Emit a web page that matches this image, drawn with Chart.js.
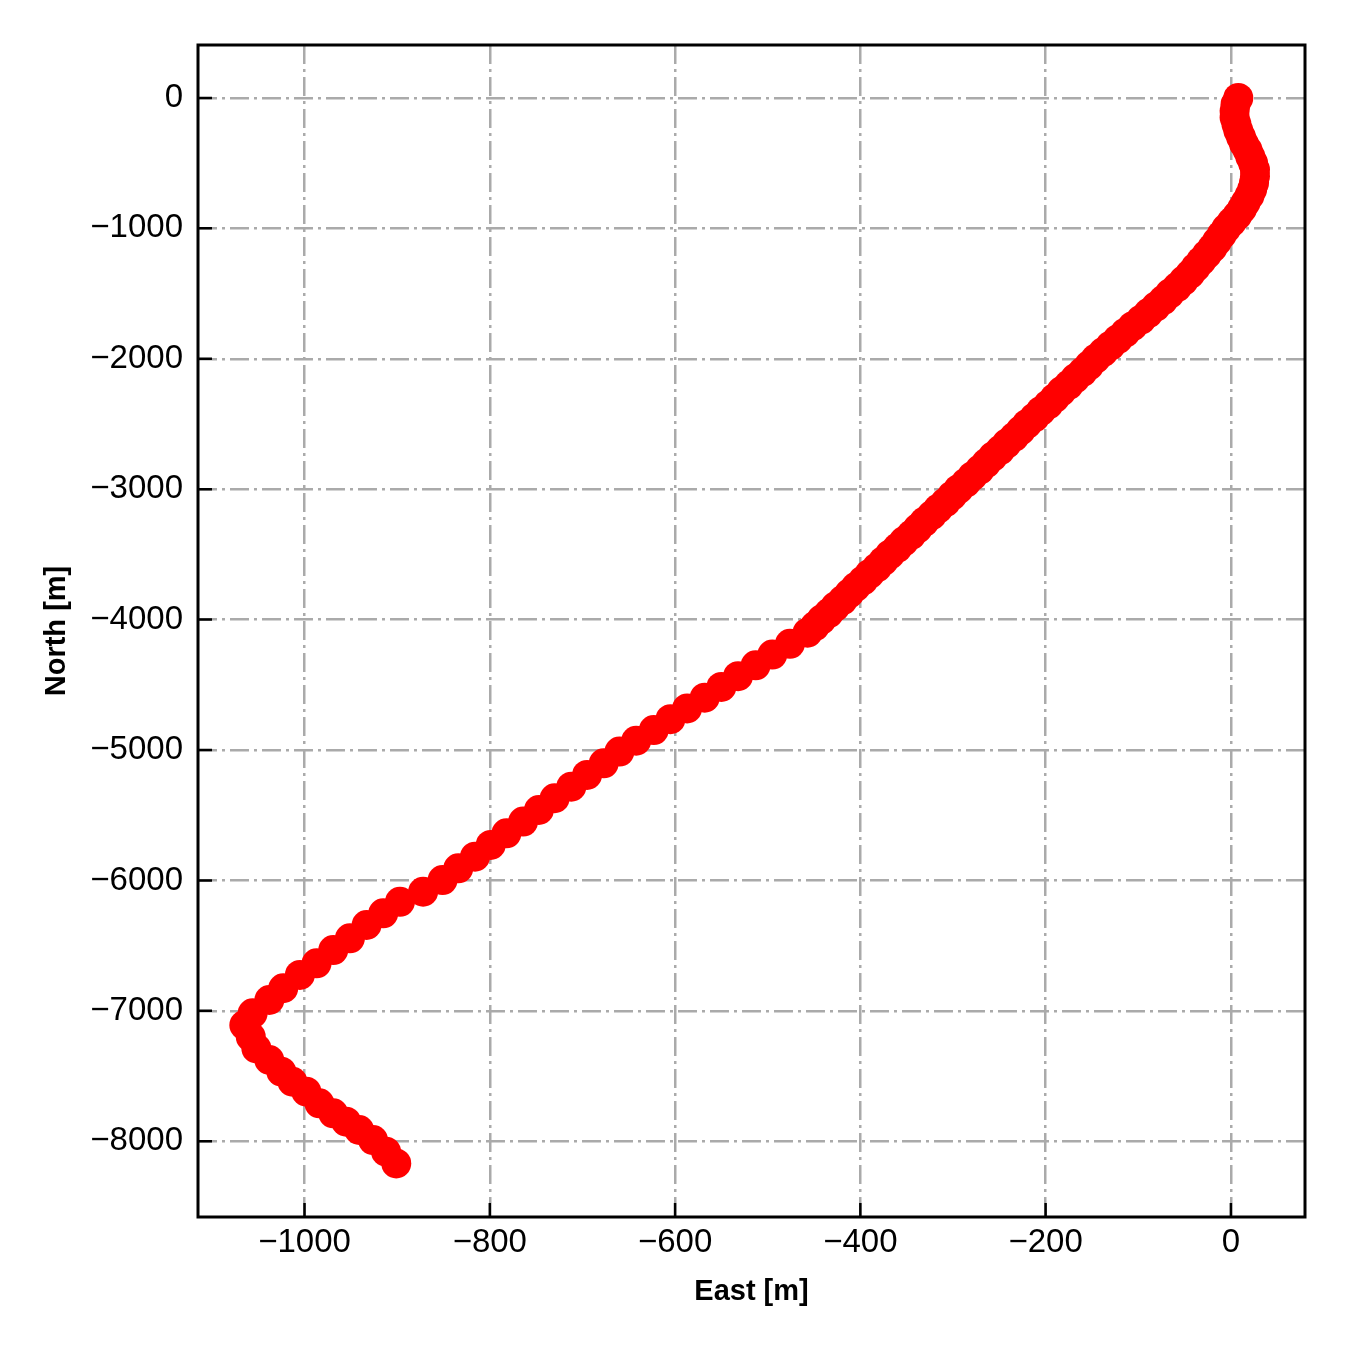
<!DOCTYPE html>
<html>
<head>
<meta charset="utf-8">
<script src="https://cdn.jsdelivr.net/npm/chart.js@4/dist/chart.umd.min.js"></script>
<style>
  html, body { margin: 0; padding: 0; background: #ffffff; }
  #wrap { width: 1350px; height: 1350px; }
</style>
</head>
<body>
<div id="wrap"><canvas id="c" width="1350" height="1350"></canvas></div>
<script>
// ---- data ----
const eastValues = [
  8, 5, 4, 4, 6, 8, 11, 14, 18, 21,
  24, 26, 26, 25, 23, 20, 16, 12, 7, 1,
  -5, -10, -15, -20, -26, -32, -38, -44, -51, -58,
  -66, -73, -81, -89, -97, -106, -114, -122, -130, -138,
  -146, -153, -160, -168, -175, -183, -190, -197, -205, -212,
  -220, -227, -234, -242, -249, -257, -264, -271, -279, -286,
  -294, -301, -308, -316, -323, -331, -338, -345, -353, -360,
  -368, -375, -382, -390, -397, -405, -412, -419, -427, -434,
  -442, -449, -457,
  -476, -495, -513, -532, -550, -568, -587, -605, -623, -642, -660,
  -677, -695, -712, -730, -747, -764, -782, -799, -816, -834, -851,
  -872, -897, -915, -933, -951, -969, -987, -1005, -1023, -1038, -1056, -1065,
  -1058, -1052, -1038, -1025, -1013, -998, -984, -969, -955, -941, -926, -912, -901
];
const northValues = [
  0, -50, -100, -150, -200, -250, -300, -350, -400, -450,
  -500, -550, -600, -650, -700, -750, -800, -850, -900, -950,
  -1000, -1050, -1100, -1150, -1200, -1250, -1300, -1350, -1400, -1450,
  -1500, -1550, -1600, -1650, -1700, -1750, -1800, -1850, -1900, -1950,
  -2000, -2050, -2100, -2150, -2200, -2250, -2300, -2350, -2400, -2450,
  -2500, -2550, -2600, -2650, -2700, -2750, -2800, -2850, -2900, -2950,
  -3000, -3050, -3100, -3150, -3200, -3250, -3300, -3350, -3400, -3450,
  -3500, -3550, -3600, -3650, -3700, -3750, -3800, -3850, -3900, -3950,
  -4000, -4050, -4100,
  -4186, -4268, -4351, -4434, -4516, -4599, -4681, -4764, -4847, -4929, -5012,
  -5102, -5191, -5281, -5370, -5460, -5549, -5639, -5728, -5818, -5907, -5997,
  -6087, -6164, -6252, -6342, -6444, -6534, -6636, -6725, -6827, -6917, -7019, -7109,
  -7200, -7288, -7377, -7467, -7544, -7620, -7709, -7786, -7850, -7914, -7991, -8080, -8170
];
const xTickValues = [-1000, -800, -600, -400, -200, 0];
const yTickValues = [0, -1000, -2000, -3000, -4000, -5000, -6000, -7000, -8000];
const xTitle = 'East [m]';
const yTitle = 'North [m]';

const points = eastValues.map((e, i) => ({ x: e, y: northValues[i] }));
const fmt = v => String(v).replace('-', '\u2212');

const frameAndTicks = {
  id: 'frameAndTicks',
  afterDraw(chart) {
    const { ctx, chartArea: a, scales } = chart;
    ctx.save();
    ctx.strokeStyle = '#000000';
    ctx.lineWidth = 2.5;
    ctx.setLineDash([]);
    ctx.beginPath();
    scales.x.ticks.forEach(t => {
      const px = scales.x.getPixelForValue(t.value);
      ctx.moveTo(px, a.bottom);
      ctx.lineTo(px, a.bottom - 14);
    });
    scales.y.ticks.forEach(t => {
      const py = scales.y.getPixelForValue(t.value);
      ctx.moveTo(a.left, py);
      ctx.lineTo(a.left + 14, py);
    });
    ctx.stroke();
    ctx.lineWidth = 3;
    ctx.strokeRect(a.left, a.top, a.right - a.left, a.bottom - a.top);
    ctx.restore();
  }
};

new Chart(document.getElementById('c'), {
  type: 'scatter',
  data: {
    datasets: [{
      data: points,
      backgroundColor: '#ff0000',
      borderWidth: 0,
      pointRadius: 15,
      pointHoverRadius: 15,
      showLine: false
    }]
  },
  options: {
    responsive: false,
    animation: false,
    devicePixelRatio: 1,
    layout: { padding: { left: 0, top: 45, right: 45, bottom: 0 } },
    plugins: { legend: { display: false }, tooltip: { enabled: false } },
    scales: {
      x: {
        type: 'linear',
        min: -1115,
        max: 80,
        afterBuildTicks: s => { s.ticks = xTickValues.map(v => ({ value: v })); },
        afterFit: s => { s.height = 133; },
        grid: { color: '#aaaaaa', lineWidth: 2.5, drawTicks: false },
        border: { display: false, dash: [19, 5, 3, 5] },
        ticks: {
          padding: 6,
          color: '#000000',
          font: { family: 'Liberation Sans', size: 33 },
          maxRotation: 0,
          callback: v => fmt(v)
        },
        title: {
          display: true,
          text: xTitle,
          color: '#000000',
          font: { family: 'Liberation Sans', size: 29, weight: 'bold' },
          padding: { top: 0, bottom: 41 }
        }
      },
      y: {
        type: 'linear',
        min: -8581,
        max: 406,
        afterBuildTicks: s => { s.ticks = yTickValues.map(v => ({ value: v })); },
        afterFit: s => { s.width = 198; },
        grid: { color: '#aaaaaa', lineWidth: 2.5, drawTicks: false },
        border: { display: false, dash: [19, 5, 3, 5] },
        ticks: {
          padding: 15,
          color: '#000000',
          font: { family: 'Liberation Sans', size: 33 },
          callback: v => fmt(v)
        },
        title: {
          display: true,
          text: yTitle,
          color: '#000000',
          font: { family: 'Liberation Sans', size: 29, weight: 'bold' },
          padding: { top: 40, bottom: 0 }
        }
      }
    }
  },
  plugins: [frameAndTicks]
});
</script>
</body>
</html>
